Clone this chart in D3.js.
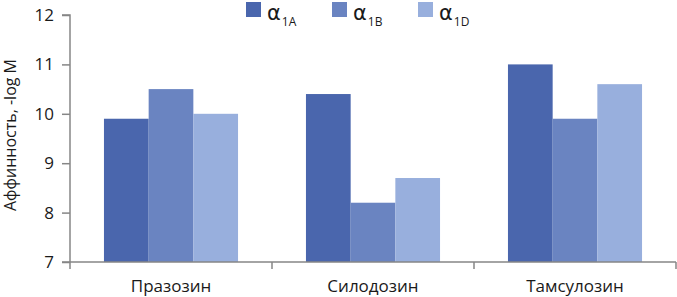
<!DOCTYPE html>
<html><head><meta charset="utf-8">
<script src="https://cdn.jsdelivr.net/npm/d3@7"></script>
<style>body{margin:0;background:#fff}svg{display:block}</style>
</head><body>
<svg id="c" width="677" height="297"></svg>
<script>
const categories = ["Празозин", "Силодозин", "Тамсулозин"];
const seriesNames = ["1A", "1B", "1D"];
const alpha1A = [9.9, 10.4, 11.0];
const alpha1B = [10.5, 8.2, 9.9];
const alpha1D = [10.0, 8.7, 10.6];
const yTicks = [7, 8, 9, 10, 11, 12];
const colors = ["#4a66ad", "#6a84c1", "#98afdd"];
const values = [alpha1A, alpha1B, alpha1D];

const svg = d3.select("#c");
const font = "Open Sans, Lato, sans-serif";
const mLeft = 70, mRight = 676, mTop = 15, mBottom = 262;

const x = d3.scaleBand().domain(categories).range([mLeft, mRight]).paddingInner(0).paddingOuter(0);
const inner = d3.scaleBand().domain(seriesNames).range([0, x.bandwidth()]).paddingInner(0).paddingOuter(0.76);
const y = d3.scaleLinear().domain([7, 12]).range([mBottom, mTop]);

const data = [];
categories.forEach((c, i) => seriesNames.forEach((s, j) => data.push({c, s, v: values[j][i], j})));

svg.append("g").selectAll("rect").data(data).join("rect")
  .attr("x", d => x(d.c) + inner(d.s))
  .attr("width", inner.bandwidth())
  .attr("y", d => y(d.v))
  .attr("height", d => y(7) - y(d.v))
  .attr("fill", d => colors[d.j]);

// Y axis
const yAxis = d3.axisLeft(y).tickValues(yTicks).tickSize(8).tickPadding(8).tickFormat(d3.format("d"));
const gy = svg.append("g").attr("transform", `translate(${mLeft},0)`).call(yAxis);
gy.select(".domain").attr("stroke", "#868686").attr("stroke-width", 1.5).attr("d", `M-8,${mTop}H0V${mBottom}`);
gy.selectAll(".tick line").attr("stroke", "#868686").attr("stroke-width", 1.5);
gy.selectAll(".tick text").attr("font-family", font).attr("font-size", 17).attr("fill", "#1a1a1a");

// X axis
const gx = svg.append("g").attr("transform", `translate(0,${mBottom})`);
gx.append("line").attr("x1", mLeft - 8).attr("x2", mRight).attr("y1", 0).attr("y2", 0)
  .attr("stroke", "#868686").attr("stroke-width", 1.5);
const bounds = categories.map(c => x(c)).concat([x(categories[categories.length-1]) + x.bandwidth()]);
gx.selectAll("line.t").data(bounds).join("line").attr("class", "t")
  .attr("x1", d => d).attr("x2", d => d).attr("y1", 0).attr("y2", 7)
  .attr("stroke", "#868686").attr("stroke-width", 1.5);
gx.selectAll("text").data(categories).join("text")
  .attr("x", d => x(d) + x.bandwidth() / 2).attr("y", 30)
  .attr("text-anchor", "middle").attr("font-family", font).attr("font-size", 17).attr("fill", "#1a1a1a")
  .text(d => d);

// Y title
svg.append("text").attr("transform", `translate(16,135) rotate(-90)`)
  .attr("text-anchor", "middle").attr("font-family", font).attr("font-size", 16).attr("fill", "#1a1a1a")
  .text("Аффинность, -log M");

// Legend
const legX = [246, 332, 418];
const leg = svg.append("g");
seriesNames.forEach((s, i) => {
  leg.append("rect").attr("x", legX[i]).attr("y", 2).attr("width", 15).attr("height", 15).attr("fill", colors[i]);
  const t = leg.append("text").attr("x", legX[i] + 21).attr("y", 20).attr("font-family", "DejaVu Sans, sans-serif").attr("fill", "#1a1a1a");
  t.append("tspan").attr("font-size", 21).text("α");
  t.append("tspan").attr("font-family", font).attr("font-size", 12).attr("dx", 1).attr("dy", 6).text(s);
});
</script>
</body></html>
